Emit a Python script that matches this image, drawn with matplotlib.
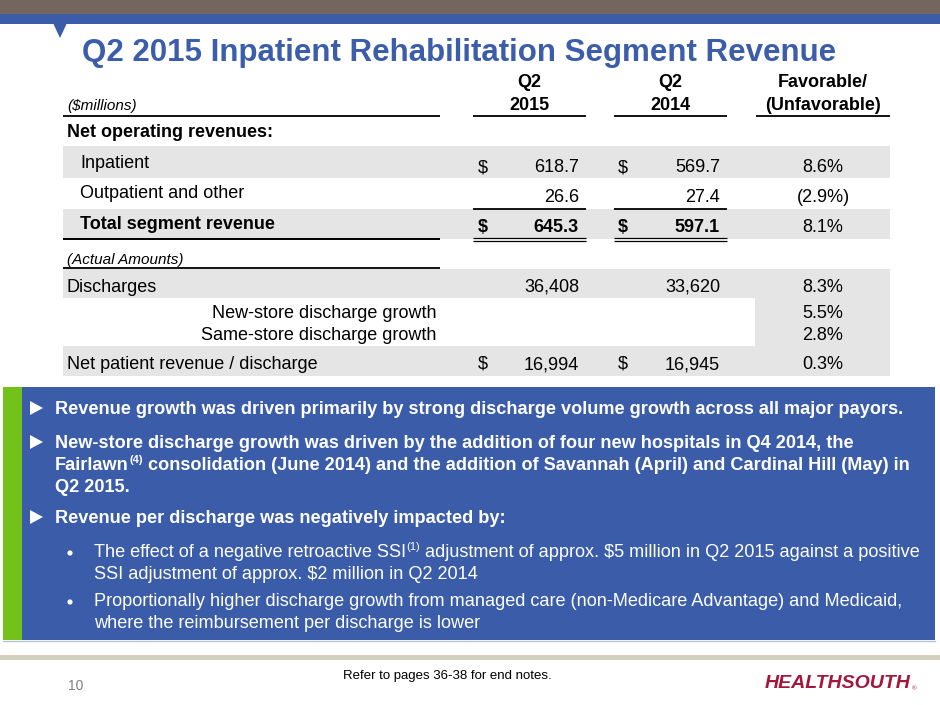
import matplotlib
matplotlib.use("Agg")
import matplotlib.pyplot as plt
from matplotlib.patches import Rectangle, Polygon, Circle

plt.rcParams['font.family'] = ['Liberation Sans', 'DejaVu Sans']
plt.rcParams['text.parse_math'] = False

# ---------------- data ----------------
title = "Q2 2015 Inpatient Rehabilitation Segment Revenue"
col_top = ["Q2", "Q2", "Favorable/"]
col_bottom = ["2015", "2014", "(Unfavorable)"]
unit_label = "($millions)"

rev_labels = ["Inpatient", "Outpatient and other", "Total segment revenue"]
rev_2015 = [618.7, 26.6, 645.3]
rev_2014 = [569.7, 27.4, 597.1]
rev_fav = ["8.6%", "(2.9%)", "8.1%"]

disc_label = "Discharges"
disc_2015 = 36408
disc_2014 = 33620
disc_fav = "8.3%"
growth_labels = ["New-store discharge growth", "Same-store discharge growth"]
growth_fav = ["5.5%", "2.8%"]
npr_label = "Net patient revenue / discharge"
npr_2015 = 16994
npr_2014 = 16945
npr_fav = "0.3%"

bullet1 = "Revenue growth was driven primarily by strong discharge volume growth across all major payors."
bullet2_l1 = "New-store discharge growth was driven by the addition of four new hospitals in Q4 2014, the"
bullet2_l2 = ["Fairlawn", "(4)", "consolidation (June 2014) and the addition of Savannah (April) and Cardinal Hill (May) in"]
bullet2_l3 = "Q2 2015."
bullet3 = "Revenue per discharge was negatively impacted by:"
sub1_l1 = ["The effect of a negative retroactive SSI", "(1)", "adjustment of approx. $5 million in Q2 2015 against a positive"]
sub1_l2 = "SSI adjustment of approx. $2 million in Q2 2014"
sub2_l1 = "Proportionally higher discharge growth from managed care (non-Medicare Advantage) and Medicaid,"
sub2_l2 = "where the reimbursement per discharge is lower"
footnote = "Refer to pages 36-38 for end notes."
page_no = "10"
logo = "HEALTHSOUTH"

# ---------------- style ----------------
BROWN = "#74665e"
BLUE = "#3a5ca9"
TITLE_BLUE = "#3b5dab"
GREEN = "#72c21a"
GRAY_BAND = "#e5e5e5"
LOGO_RED = "#a3173c"

fig = plt.figure(figsize=(9.4, 7.05), dpi=100)
ax = fig.add_axes([0, 0, 1, 1])
ax.set_xlim(0, 940)
ax.set_ylim(705, 0)
ax.axis('off')
fig.canvas.draw()
R = fig.canvas.get_renderer()

# top bars
ax.add_patch(Rectangle((0, 0), 940, 14, color=BROWN, lw=0))
ax.add_patch(Rectangle((0, 14), 940, 10, color=BLUE, lw=0))
ax.add_patch(Polygon([(53, 23), (67, 23), (60, 38)], closed=True, color=BLUE, lw=0))

ax.text(82, 61, title, fontsize=22.5, fontweight='bold', color=TITLE_BLUE, va='baseline', ha='left')

# ---------------- table ----------------
FS = 13
FS_SMALL = 11
LX = 67
X15_D, X15_R = 478, 579
X14_D, X14_R = 618, 720
XF = 823
col_c = [529.5, 670.5, 823]
col_span = [(473, 586), (614, 727), (756, 890)]

for i in range(3):
    ax.text(col_c[i], 87, col_top[i], fontsize=FS, fontweight='bold', ha='center', va='baseline')
    ax.text(col_c[i], 110, col_bottom[i], fontsize=FS, fontweight='bold', ha='center', va='baseline')
    ax.plot(col_span[i], [116, 116], color='black', lw=1.3, solid_capstyle='butt')
ax.text(LX, 110, unit_label, fontsize=FS_SMALL, style='italic', ha='left', va='baseline')
ax.plot([63, 440], [116, 116], color='black', lw=1.3, solid_capstyle='butt')

ax.text(LX, 137, "Net operating revenues:", fontsize=FS, fontweight='bold', ha='left', va='baseline')

# bands
ax.add_patch(Rectangle((63, 146), 827, 32, color=GRAY_BAND, lw=0))
ax.add_patch(Rectangle((63, 209), 827, 30, color=GRAY_BAND, lw=0))
ax.add_patch(Rectangle((63, 269), 827, 29, color=GRAY_BAND, lw=0))
ax.add_patch(Rectangle((755, 298), 135, 48, color=GRAY_BAND, lw=0))
ax.add_patch(Rectangle((63, 346), 827, 30, color=GRAY_BAND, lw=0))

label_base = [168, 198, 229]
num_base = [172, 202, 232]
for i in range(3):
    bold = 'bold' if i == 2 else 'normal'
    ax.text(80, label_base[i], rev_labels[i], fontsize=FS, fontweight=bold, ha='left', va='baseline')
    if i != 1:
        ax.text(X15_D, num_base[i], "$", fontsize=FS, fontweight=bold, ha='left', va='baseline')
        ax.text(X14_D, num_base[i], "$", fontsize=FS, fontweight=bold, ha='left', va='baseline')
    ax.text(X15_R, num_base[i], f"{rev_2015[i]:.1f}", fontsize=FS, fontweight=bold, ha='right', va='baseline')
    ax.text(X14_R, num_base[i], f"{rev_2014[i]:.1f}", fontsize=FS, ha='right', va='baseline', fontweight=bold)
    ax.text(XF, num_base[i], rev_fav[i], fontsize=FS, ha='center', va='baseline')

# underlines for subtotal
for (a, b) in col_span[:2]:
    ax.plot([a, b], [209, 209], color='black', lw=1.3, solid_capstyle='butt')
    ax.plot([a, b], [237.5, 237.5], color='black', lw=0.9, solid_capstyle='butt')
    ax.plot([a, b], [240.5, 240.5], color='black', lw=0.9, solid_capstyle='butt')
ax.plot([63, 440], [238.5, 238.5], color='black', lw=1.4, solid_capstyle='butt')

ax.text(LX, 264, "(Actual Amounts)", fontsize=FS_SMALL, style='italic', ha='left', va='baseline')
ax.plot([63, 440], [268, 268], color='black', lw=1.3, solid_capstyle='butt')

ax.text(LX, 292, disc_label, fontsize=FS, ha='left', va='baseline')
ax.text(X15_R, 292, f"{disc_2015:,}", fontsize=FS, ha='right', va='baseline')
ax.text(X14_R, 292, f"{disc_2014:,}", fontsize=FS, ha='right', va='baseline')
ax.text(XF, 292, disc_fav, fontsize=FS, ha='center', va='baseline')

for lab, val, yb in zip(growth_labels, growth_fav, [318, 340]):
    ax.text(436, yb, lab, fontsize=FS, ha='right', va='baseline')
    ax.text(XF, yb, val, fontsize=FS, ha='center', va='baseline')

ax.text(LX, 369, npr_label, fontsize=FS, ha='left', va='baseline')
ax.text(X15_D, 369, "$", fontsize=FS, ha='left', va='baseline')
ax.text(X14_D, 369, "$", fontsize=FS, ha='left', va='baseline')
ax.text(X15_R, 369, f"{npr_2015:,}", fontsize=FS, ha='right', va='baseline')
ax.text(X14_R, 369, f"{npr_2014:,}", fontsize=FS, ha='right', va='baseline')
ax.text(XF, 369, npr_fav, fontsize=FS, ha='center', va='baseline')

# ---------------- blue box ----------------
ax.add_patch(Rectangle((3, 387), 932, 253, color=BLUE, lw=0))
ax.add_patch(Rectangle((3, 387), 19, 253, color=GREEN, lw=0))
ax.plot([3, 935], [641, 641], color="#b3c1e0", lw=1)

BFS = 13.1
SFS = 13.1


def runs(x, y, parts, fs, weight, sup_fs=8, rise=7):
    for k, s in enumerate(parts):
        sup = (k % 2 == 1)
        t = ax.text(x, y - (rise if sup else 0), s, fontsize=(sup_fs if sup else fs),
                    fontweight=weight, color='white', ha='left', va='baseline')
        bb = t.get_window_extent(renderer=R)
        x += bb.width + (fs * 100 / 72 * 0.278 if sup else 0.5)


def tri(yc):
    ax.add_patch(Polygon([(30, yc - 7), (30, yc + 7), (43, yc)], closed=True, color='white', lw=0))


def dot(yc):
    ax.add_patch(Circle((70, yc), 2.6, color='white', lw=0))


tri(408)
ax.text(55, 414, bullet1, fontsize=BFS, fontweight='bold', color='white', va='baseline')
tri(442)
ax.text(55, 448, bullet2_l1, fontsize=BFS, fontweight='bold', color='white', va='baseline')
runs(55, 470, bullet2_l2, BFS, 'bold')
ax.text(55, 492, bullet2_l3, fontsize=BFS, fontweight='bold', color='white', va='baseline')
tri(517)
ax.text(55, 523, bullet3, fontsize=BFS, fontweight='bold', color='white', va='baseline')

dot(553)
runs(94, 557, sub1_l1, SFS, 'normal')
ax.text(94, 579, sub1_l2, fontsize=SFS, color='white', va='baseline')
dot(602)
ax.text(94, 606, sub2_l1, fontsize=SFS, color='white', va='baseline')
ax.text(94, 628, sub2_l2, fontsize=SFS, color='white', va='baseline')

# ---------------- footer ----------------
ax.add_patch(Rectangle((0, 655), 940, 5, color="#d4cfc0", lw=0))
ax.text(447, 679, footnote, fontsize=9.5, ha='center', va='baseline', color='black')
ax.text(68, 690, page_no, fontsize=10, ha='left', va='baseline', color='#808080')
lt = ax.text(765, 688, logo, fontsize=14, fontweight='bold', style='italic', color=LOGO_RED,
             ha='left', va='baseline')
lbb = lt.get_window_extent(renderer=R)
ax.text(765 + lbb.width + 1.5, 690, "®", fontsize=4.5, color=LOGO_RED, ha='left', va='baseline')

fig.savefig("out.png", dpi=100)
